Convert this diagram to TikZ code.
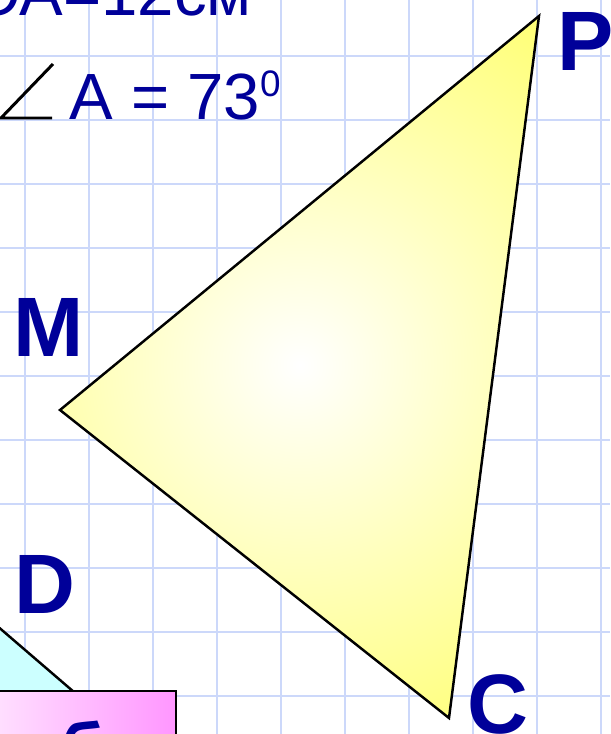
\documentclass[tikz,border=0pt]{standalone}
\usepackage{fontspec}
\setmainfont{Liberation Sans}
\newfontfamily\taskfont{DejaVu Sans}
\usetikzlibrary{positioning}
\definecolor{inkblue}{HTML}{000099}
\definecolor{gridblue}{RGB}{204,216,250}
\definecolor{sunyellow}{RGB}{255,255,100}
\definecolor{aqua}{HTML}{CCFFFF}
\definecolor{pinkleft}{RGB}{255,236,255}
\definecolor{pinkright}{RGB}{255,150,255}

\begin{document}
\begin{tikzpicture}[x=0.02cm, y=-0.02cm,
  vertex/.style={font=\bfseries\fontsize{48}{48}\selectfont, text=inkblue, inner sep=0pt, anchor=base west},
  given/.style={font=\fontsize{37.2}{37.2}\selectfont, text=inkblue, inner sep=0pt, anchor=base west},
  edge/.style={draw=black, line width=1.4pt, line join=miter},
  gridline/.style={draw=gridblue, line width=1.3pt},
  taskbox/.style={draw=black, line width=1.4pt, left color=pinkleft, right color=pinkright,
    minimum width=4.2cm, minimum height=1.8cm, inner sep=0pt}]
  \useasboundingbox (0,0) rectangle (610,734);
  \clip (0,0) rectangle (610,734);

  % squared paper
  \foreach \gx in {25,89,...,601}
    \draw[gridline] (\gx,0) -- (\gx,734);
  \foreach \gy in {56,120,...,696}
    \draw[gridline] (0,\gy) -- (610,\gy);

  % triangle MPC
  \coordinate (P) at (539,16);
  \coordinate (M) at (60,410);
  \coordinate (C) at (449,718);
  \begin{scope}
    \clip (P) -- (M) -- (C) -- cycle;
    \shade[inner color=white, outer color=sunyellow] (300,365) circle (9.5cm);
  \end{scope}
  \draw[edge] (P) -- (M) -- (C) -- cycle;

  % second triangle, only a corner shows
  \coordinate (Dside) at (-40,594);
  \coordinate (Dfoot) at (160,766);
  \fill[aqua] (Dside) -- (Dfoot) -- (-40,766) -- cycle;
  \draw[edge] (Dside) -- (Dfoot);

  % task box
  \node[taskbox, anchor=north east] (task) at (177,690) {};
  \node[font=\taskfont\bfseries\fontsize{37}{37}\selectfont, text=inkblue, inner sep=0pt, anchor=base west] (tasktext) at (-65,772) {чтобы};

  % vertex labels
  \node[vertex] (Plabel) at (557,70) {P};
  \node[vertex] (Mlabel) at (13,356) {M};
  \node[vertex] (Dlabel) at (14,613) {D};
  \node[vertex] (Clabel) at (467,733) {C};

  % given data
  \node[given] (side) at (-30,15) {ОА=12см};
  \node[given] (angle) at (69,119) {A = 73\raisebox{13pt}{\fontsize{21}{21}\selectfont 0}};
  \draw[line width=1.7pt] (53,64) -- (1,118) -- (52,118);
\end{tikzpicture}
\end{document}
